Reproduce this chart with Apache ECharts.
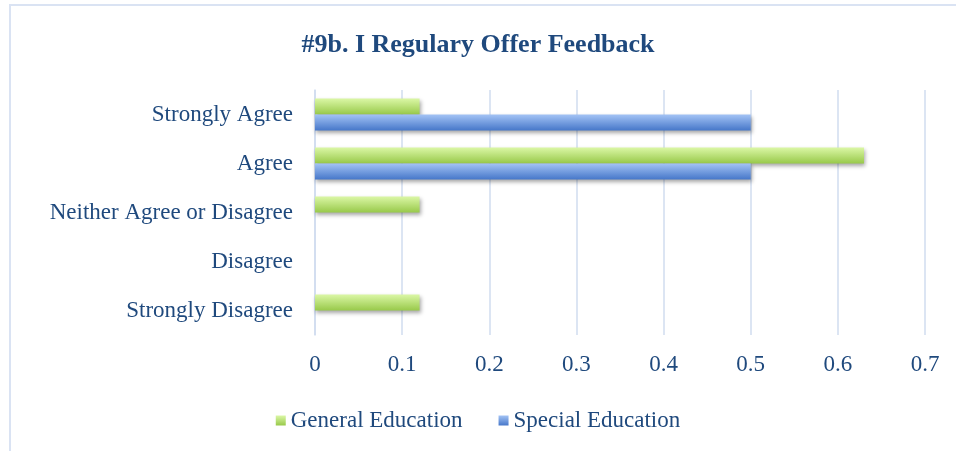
<!DOCTYPE html>
<html>
<head>
<meta charset="utf-8">
<script src="https://cdn.jsdelivr.net/npm/echarts@6/dist/echarts.min.js"></script>
<style>
  html, body { margin: 0; padding: 0; background: #fff; }
  #chart { width: 956px; height: 451px; }
</style>
</head>
<body>
<div id="chart"></div>
<script>
// categories top to bottom
var categories = ['Strongly Agree', 'Agree', 'Neither Agree or Disagree', 'Disagree', 'Strongly Disagree'];
var generalEd = [0.12, 0.63, 0.12, 0, 0.12];
var specialEd = [0.5, 0.5, 0, 0, 0];
var seriesNames = ['General Education', 'Special Education'];

var textColor = '#1f497d';
var font = 'Liberation Serif';

function grad(top, bottom) {
    return new echarts.graphic.LinearGradient(0, 0, 0, 1, [
        { offset: 0, color: top },
        { offset: 1, color: bottom }
    ]);
}

var chart = echarts.init(document.getElementById('chart'));
var option = {
    animation: false,
    title: {
        text: '#9b. I Regulary Offer Feedback',
        left: 'center',
        top: 27,
        textStyle: { fontFamily: font, fontWeight: 'bold', fontSize: 26, color: textColor }
    },
    graphic: [{
        type: 'rect',
        shape: { x: 10, y: 5, width: 960, height: 460 },
        style: { fill: null, stroke: '#dae3f3', lineWidth: 2 },
        silent: true
    }],
    legend: {
        data: seriesNames,
        top: 404,
        left: 'center',
        icon: 'rect',
        itemWidth: 10,
        itemHeight: 10,
        itemGap: 36,
        itemStyle: { shadowBlur: 0, shadowOffsetX: 0, shadowOffsetY: 0 },
        textStyle: { fontFamily: font, fontSize: 23, color: textColor }
    },
    grid: { left: 315, right: 31, top: 90, bottom: 116 },
    xAxis: {
        type: 'value',
        min: 0,
        max: 0.7,
        interval: 0.1,
        axisLine: { show: false },
        axisTick: { show: false },
        axisLabel: { fontFamily: font, fontSize: 23, color: textColor, margin: 18 },
        splitLine: { lineStyle: { color: '#d0dcef', width: 1.5 } }
    },
    yAxis: {
        type: 'category',
        inverse: true,
        data: categories,
        axisLine: { show: true, lineStyle: { color: '#d0dcef', width: 1.5 } },
        axisTick: { show: false },
        axisLabel: { fontFamily: font, fontSize: 23, color: textColor, margin: 22 }
    },
    series: [{
        name: seriesNames[0],
        type: 'bar',
        data: generalEd,
        barWidth: 16,
        barGap: '0%',
        itemStyle: {
            color: grad('#dbf7a6', '#98c94a'),
            shadowColor: 'rgba(0,0,0,0.35)', shadowBlur: 4, shadowOffsetY: 2, shadowOffsetX: 1
        }
    }, {
        name: seriesNames[1],
        type: 'bar',
        data: specialEd,
        barWidth: 16,
        barGap: '0%',
        itemStyle: {
            color: grad('#a3c3f5', '#4677c9'),
            shadowColor: 'rgba(0,0,0,0.35)', shadowBlur: 4, shadowOffsetY: 2, shadowOffsetX: 1
        }
    }]
};
chart.setOption(option);
</script>
</body>
</html>
